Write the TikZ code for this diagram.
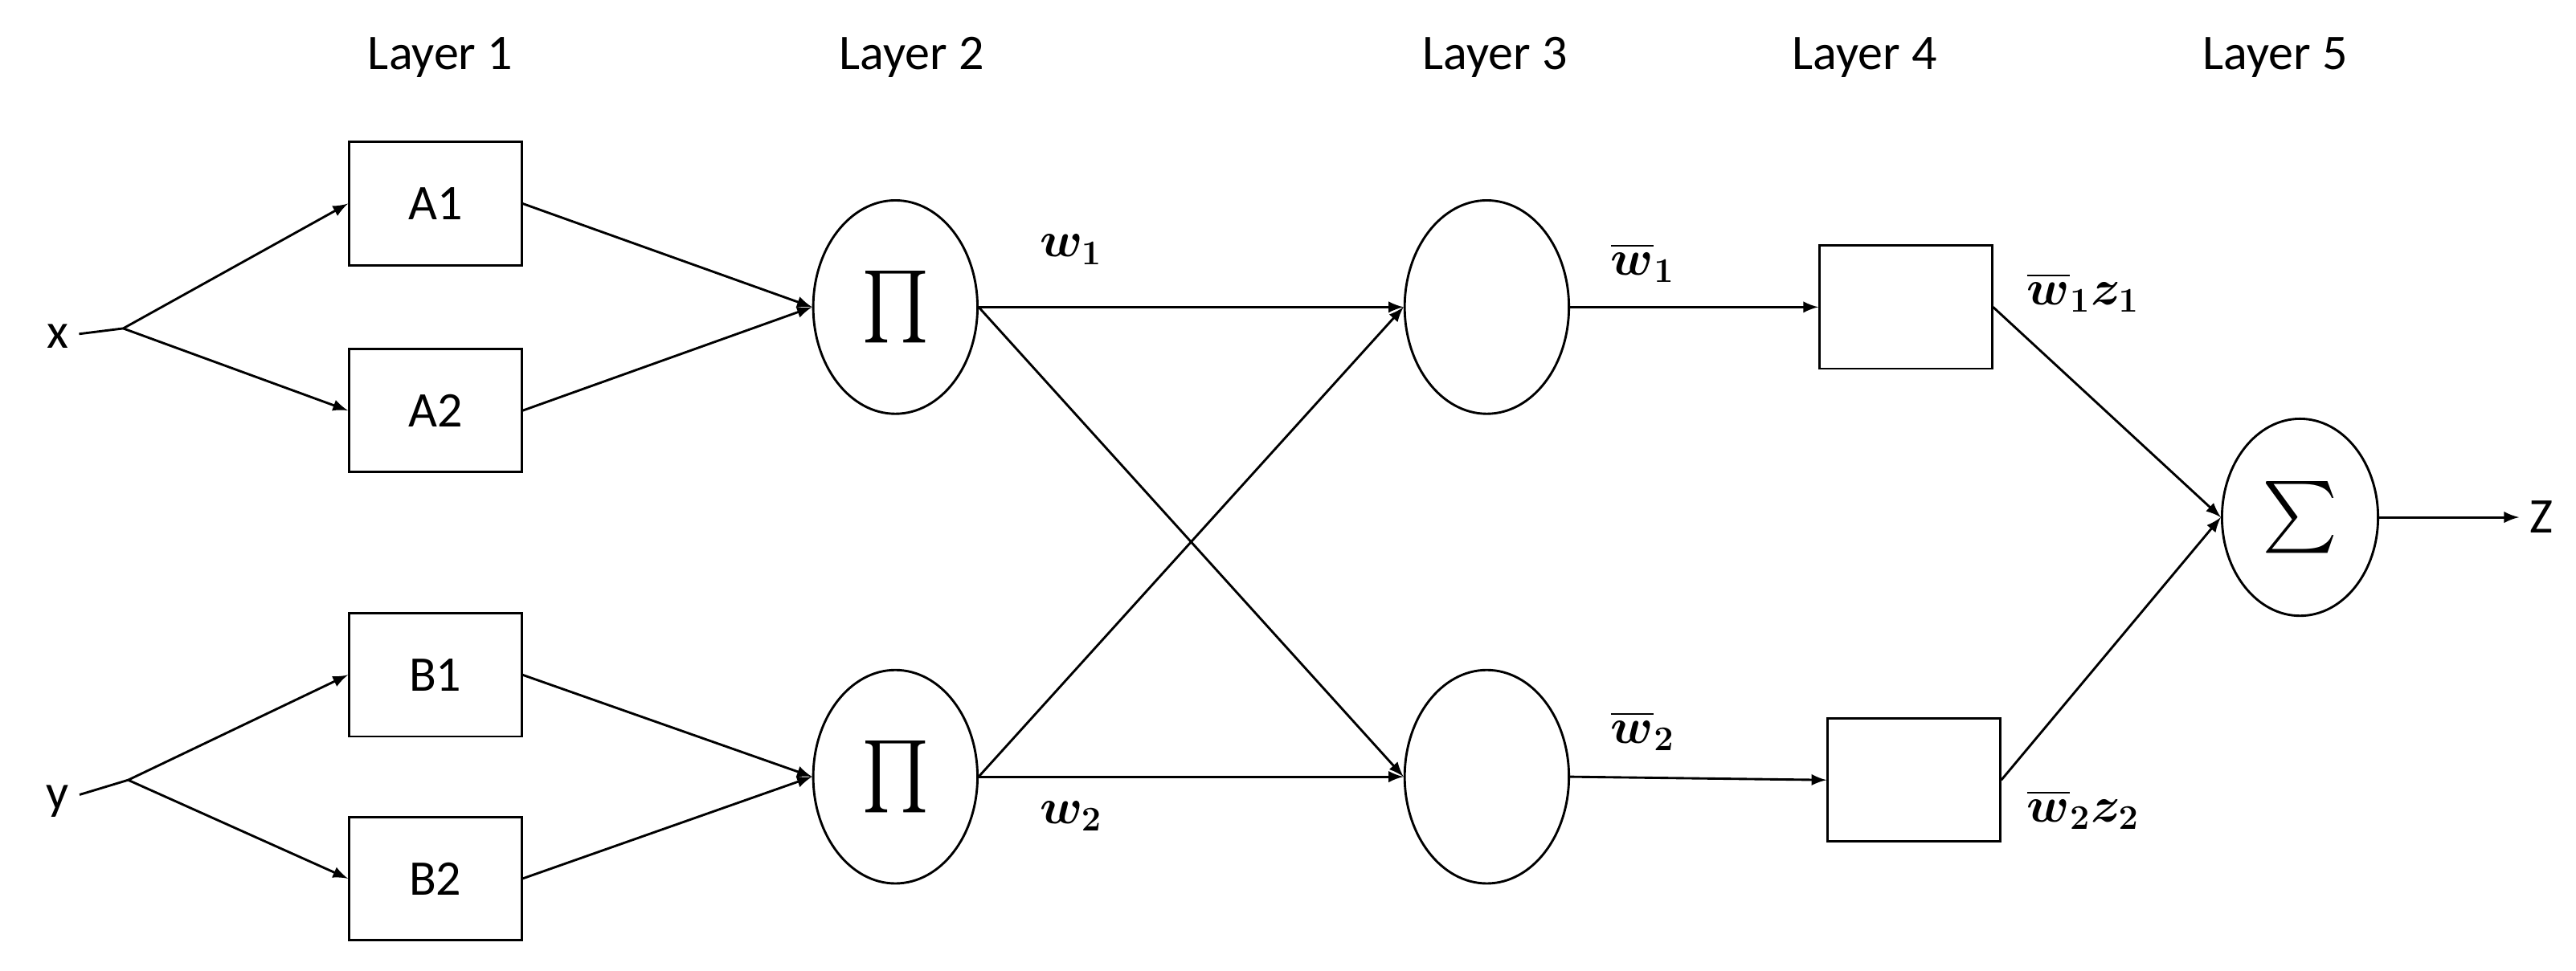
\documentclass[tikz,border=0pt]{standalone}
\usepackage{fontspec}
\setmainfont{Carlito}
\usepackage{amsmath,bm}
\usetikzlibrary{shapes.geometric}
\begin{document}
\begin{tikzpicture}[x=0.02cm, y=-0.02cm, >=latex, thick, font=\LARGE]
        % Stili
        \tikzstyle{box} = [draw, rectangle, minimum height=1.5cm, minimum width=2.1cm, inner sep=0pt]
        \tikzstyle{neuron} = [draw, ellipse, minimum height=2.6cm, minimum width=2cm, inner sep=0pt]
        \tikzstyle{coord} = [coordinate]
        \useasboundingbox (0,0) rectangle (1568,591);

        % --- Etichette dei livelli ---
        \node (lab1) at (268,35) {Layer 1};
        \node (lab2) at (555,35) {Layer 2};
        \node (lab3) at (910,35) {Layer 3};
        \node (lab4) at (1135,35) {Layer 4};
        \node (lab5) at (1385,35) {Layer 5};

        % --- Ingressi ---
        \node (x) at (35,205) {x};
        \node (y) at (35,488) {y};
        \node [coord] (xsplit) at (75,200) {};
        \node [coord] (ysplit) at (78,475) {};

        % --- Layer 1 ---
        \node [box] (a1) at (265,124) {A1};
        \node [box] (a2) at (265,250) {A2};
        \node [box] (b1) at (265,411) {B1};
        \node [box] (b2) at (265,535) {B2};

        % --- Layer 2 ---
        \node [neuron] (p1) at (545,187) {\Huge$\prod$};
        \node [neuron] (p2) at (545,473) {\Huge$\prod$};

        % --- Layer 3 ---
        \node [neuron] (n1) at (905,187) {};
        \node [neuron] (n2) at (905,473) {};

        % --- Layer 4 ---
        \node [box] (c1) at (1160,187) {};
        \node [box] (c2) at (1165,475) {};

        % --- Layer 5 ---
        \node [neuron, minimum height=2.4cm, minimum width=1.9cm] (s) at (1400,315) {\Huge$\sum$};
        \node (z) at (1547,315) {Z};

        % --- Pesi ---
        \node (w1) at (652,152) {$\bm{w_1}$};
        \node (w2) at (652,497) {$\bm{w_2}$};
        \node (wb1) at (1000,160) {$\overline{\bm{w}}_{\bm 1}$};
        \node (wb2) at (1000,445) {$\overline{\bm{w}}_{\bm 2}$};
        \node (wz1) at (1268,178) {$\overline{\bm{w}}_{\bm 1}\bm{z_1}$};
        \node (wz2) at (1268,493) {$\overline{\bm{w}}_{\bm 2}\bm{z_2}$};

        % --- Collegamenti ---
        \draw (x) -- (xsplit);
        \draw [->] (xsplit) -- (a1.west);
        \draw [->] (xsplit) -- (a2.west);
        \draw (y) -- (ysplit);
        \draw [->] (ysplit) -- (b1.west);
        \draw [->] (ysplit) -- (b2.west);

        \draw [->] (a1.east) -- (p1.west);
        \draw [->] (a2.east) -- (p1.west);
        \draw [->] (b1.east) -- (p2.west);
        \draw [->] (b2.east) -- (p2.west);

        \draw [->] (p1.east) -- (n1.west);
        \draw [->] (p1.east) -- (n2.west);
        \draw [->] (p2.east) -- (n1.west);
        \draw [->] (p2.east) -- (n2.west);

        \draw [->] (n1.east) -- (c1.west);
        \draw [->] (n2.east) -- (c2.west);

        \draw [->] (c1.east) -- (s.west);
        \draw [->] (c2.east) -- (s.west);
        \draw [->] (s.east) -- (z.west);
    \end{tikzpicture}
\end{document}
